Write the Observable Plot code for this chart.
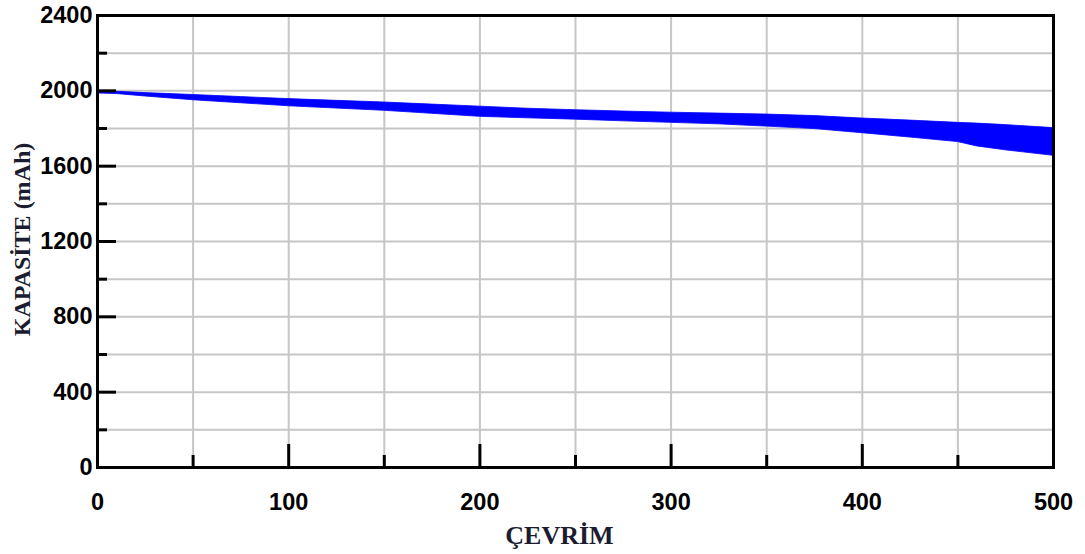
<!DOCTYPE html>
<html><head><meta charset="utf-8">
<script src="https://cdn.jsdelivr.net/npm/d3@7"></script>
<script src="https://cdn.jsdelivr.net/npm/@observablehq/plot@0.6"></script>
<style>body{margin:0;background:#fff}</style>
</head><body><div id="chart"></div>
<script>
const cycles   = [0,    10,   25,   50,   75,   100,  125,  150,  175,  200,  225,  250,  275,  300,  325,  350,  375,  400,  425,  450,  460,  475,  500];
const upperCap = [2000, 1995, 1988, 1978, 1967, 1956, 1947, 1938, 1927, 1916, 1905, 1897, 1890, 1884, 1879, 1874, 1866, 1853, 1842, 1830, 1826, 1818, 1802];
const lowerCap = [1986, 1983, 1970, 1950, 1934, 1918, 1906, 1894, 1878, 1862, 1854, 1847, 1838, 1830, 1822, 1810, 1797, 1775, 1752, 1728, 1705, 1684, 1655];
const xMajor = [0, 100, 200, 300, 400, 500];
const xMinor = [50, 150, 250, 350, 450];
const yMajor = [0, 400, 800, 1200, 1600, 2000, 2400];
const yMinor = [200, 600, 1000, 1400, 1800, 2200];
const xTitle = "ÇEVRİM";
const yTitle = "KAPASİTE (mAh)";

const data = cycles.map((c, i) => ({cycle: c, upper: upperCap[i], lower: lowerCap[i]}));
const serif = "'Liberation Serif', 'Times New Roman', serif";
const W = 1085, H = 554, mL = 97, mR = 32, mT = 15, mB = 87;
const fw = W - mL - mR, fh = H - mT - mB;

const chart = Plot.plot({
  width: W, height: H,
  marginLeft: mL, marginRight: mR, marginTop: mT, marginBottom: mB,
  style: {fontFamily: "'Liberation Sans', Arial, sans-serif", fontSize: "23.5px", fontWeight: "bold", color: "#000", background: "#fff", overflow: "visible"},
  x: {domain: [0, 500]},
  y: {domain: [0, 2400]},
  marks: [
    Plot.gridX(xMajor.concat(xMinor), {stroke: "#c6c6c6", strokeOpacity: 1, strokeWidth: 2}),
    Plot.gridY(yMajor.concat(yMinor), {stroke: "#c6c6c6", strokeOpacity: 1, strokeWidth: 2}),
    Plot.areaY(data, {x: "cycle", y1: "lower", y2: "upper", fill: "#0000ff", stroke: "#0000ff", strokeWidth: 0.8}),
    Plot.tickX(xMajor, {x: d => d, insetTop: fh - 23, stroke: "black", strokeWidth: 3}),
    Plot.tickX(xMinor, {x: d => d, insetTop: fh - 12, stroke: "black", strokeWidth: 3}),
    Plot.tickY(yMajor, {y: d => d, insetRight: fw - 19, stroke: "black", strokeWidth: 3}),
    Plot.tickY(yMinor, {y: d => d, insetRight: fw - 10, stroke: "black", strokeWidth: 3}),
    Plot.frame({stroke: "black", strokeWidth: 3}),
    Plot.axisX({ticks: xMajor, tickSize: 0, tickPadding: 26, tickFormat: "d", label: null, fill: "#000"}),
    Plot.axisY({ticks: yMajor, tickSize: 0, tickPadding: 5, tickFormat: "d", label: null, fill: "#000"}),
    Plot.text([yTitle], {text: d => d, frameAnchor: "left", dx: -68, dy: -2, rotate: -90, textAnchor: "middle", lineAnchor: "bottom",
      fontFamily: serif, fontSize: 24, fontWeight: "bold", fill: "#1c1c30"}),
    Plot.text([xTitle], {text: d => d, frameAnchor: "bottom", dx: -16, dy: 76, textAnchor: "middle", lineAnchor: "bottom",
      fontFamily: serif, fontSize: 26, fontWeight: "bold", fill: "#1c1c30"})
  ]
});
document.getElementById("chart").appendChild(chart);
</script>
</body></html>
